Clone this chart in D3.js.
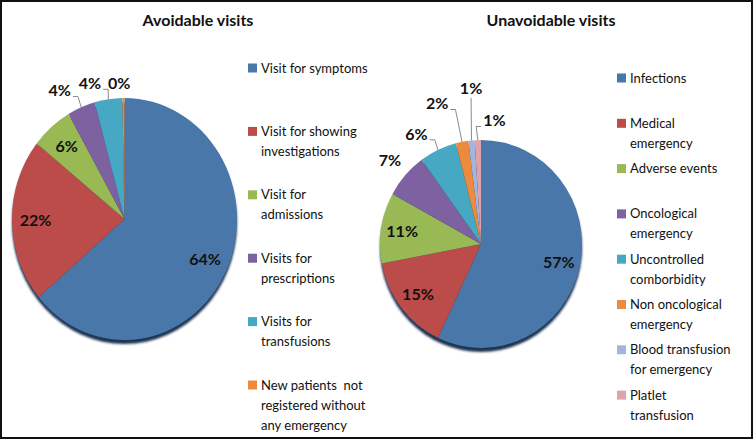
<!DOCTYPE html>
<html>
<head>
<meta charset="utf-8">
<title>Avoidable and unavoidable visits</title>
<script src="https://d3js.org/d3.v7.min.js"></script>
<style>
  body { margin: 0; background: #fff; }
  text { font-family: Lato, "Open Sans", sans-serif; }
</style>
</head>
<body>
<svg id="chart" width="756" height="446"></svg>
<script>
// data
const avoidableCategories = [
  ["Visit for symptoms"],
  ["Visit for showing", "investigations"],
  ["Visit for", "admissions"],
  ["Visits for", "prescriptions"],
  ["Visits for", "transfusions"],
  ["New patients  not", "registered without", "any emergency"]
];
const avoidableValues = [64, 22, 6, 4, 4, 0.3];

const unavoidableCategories = [
  ["Infections"],
  ["Medical", "emergency"],
  ["Adverse events"],
  ["Oncological", "emergency"],
  ["Uncontrolled", "comborbidity"],
  ["Non oncological", "emergency"],
  ["Blood transfusion", "for emergency"],
  ["Platlet", "transfusion"]
];
const unavoidableValues = [57, 15, 11, 7, 6, 2, 1, 1];

const sliceColors = ["#4a77aa", "#bb4c4a", "#98b954", "#7d61a0", "#47a8c4", "#ed8a3e", "#a3b5de", "#e0a3a8"];

const svg = d3.select("#chart");

svg.append("rect")
  .attr("x", 1).attr("y", 1)
  .attr("width", 751).attr("height", 437)
  .attr("fill", "#fff")
  .attr("stroke", "#111")
  .attr("stroke-width", 2);

const defs = svg.append("defs");
defs.append("filter").attr("id", "soft")
  .append("feGaussianBlur").attr("stdDeviation", 1.2);

function drawPie(opt) {
  const { title, titleX, categories, values, cx, cy, rx, ry, legend, nudge } = opt;
  const total = d3.sum(values);
  const sy = ry / rx;
  const color = d3.scaleOrdinal().domain(d3.range(values.length)).range(sliceColors);

  svg.append("text")
    .attr("x", titleX).attr("y", 26)
    .attr("text-anchor", "middle")
    .attr("font-size", 16).attr("font-weight", "bold")
    .attr("fill", "#111")
    .text(title);

  const pie = d3.pie().sort(null).value(d => d);
  const arcs = pie(values);
  const arc = d3.arc().innerRadius(0).outerRadius(rx);

  // shadow under the pie
  svg.append("ellipse")
    .attr("cx", cx).attr("cy", cy + 4)
    .attr("rx", rx).attr("ry", ry)
    .attr("fill", "#1e3553")
    .attr("filter", "url(#soft)");

  const g = svg.append("g")
    .attr("transform", `translate(${cx},${cy}) scale(1,${sy})`);

  g.selectAll("path")
    .data(arcs)
    .enter().append("path")
    .attr("d", arc)
    .attr("fill", (d, i) => color(i));

  // labels
  const point = (a, f) => [cx + Math.sin(a) * rx * f, cy - Math.cos(a) * ry * f];
  const lab = svg.append("g");
  arcs.forEach((d, i) => {
    const mid = (d.startAngle + d.endAngle) / 2;
    const txt = Math.round(d.value / total * 100) + "%";
    let x, y;
    const outside = i >= 3;
    if (!outside) {
      [x, y] = point(mid, 0.79);
    } else {
      [x, y] = point(mid, 1.15);
      const n = nudge[i - 3];
      x += n[0]; y += n[1];
    }
    const t = lab.append("text")
      .attr("x", x).attr("y", y)
      .attr("dy", "0.36em")
      .attr("text-anchor", "middle")
      .attr("font-size", 16).attr("font-weight", "bold")
      .attr("fill", "#111")
      .text(txt);
    if (outside) {
      const [ax, ay] = point(mid, 1.0);
      const w = t.node().getComputedTextLength();
      if (Math.hypot(ax - x, ay - y) > 23) {
        let pts;
        if (Math.abs(ax - x) < w / 2) {
          pts = [[x, y + 10], [ax, ay]];
        } else {
          const side = ax > x ? 1 : -1;
          const sx = x + side * (w / 2 + 2);
          pts = [[sx, y + 6], [sx + side * 5, y + 6], [ax, ay]];
        }
        lab.append("path")
          .attr("d", d3.line()(pts))
          .attr("fill", "none")
          .attr("stroke", "#8a8a8a")
          .attr("stroke-width", 1);
      }
    }
  });

  // legend
  const ly = d3.scaleLinear().domain([0, 1]).range([legend.y0, legend.y0 + legend.step]);
  const lg = svg.append("g");
  categories.forEach((lines, i) => {
    const y0 = ly(i);
    lg.append("rect")
      .attr("x", legend.x).attr("y", y0 - 4.5)
      .attr("width", 9).attr("height", 9)
      .attr("fill", color(i));
    lines.forEach((s, k) => {
      lg.append("text")
        .attr("x", legend.x + 13)
        .attr("y", y0 + k * 20)
        .attr("dy", "0.35em")
        .attr("font-size", 13)
        .attr("fill", "#111")
        .style("white-space", "pre")
        .text(s);
    });
  });
}

drawPie({
  title: "Avoidable visits", titleX: 198,
  categories: avoidableCategories, values: avoidableValues,
  cx: 124.5, cy: 219, rx: 112.5, ry: 121,
  legend: { x: 248, y0: 68, step: 63.4 },
  nudge: [[-15, 0], [-16, 2], [-4, 3]]
});

drawPie({
  title: "Unavoidable visits", titleX: 551,
  categories: unavoidableCategories, values: unavoidableValues,
  cx: 481, cy: 244, rx: 101, ry: 104,
  legend: { x: 617, y0: 78, step: 45.3 },
  nudge: [[-4, -5], [-15, -2], [-22, -23], [1, -37], [17, -4]]
});
</script>
</body>
</html>
